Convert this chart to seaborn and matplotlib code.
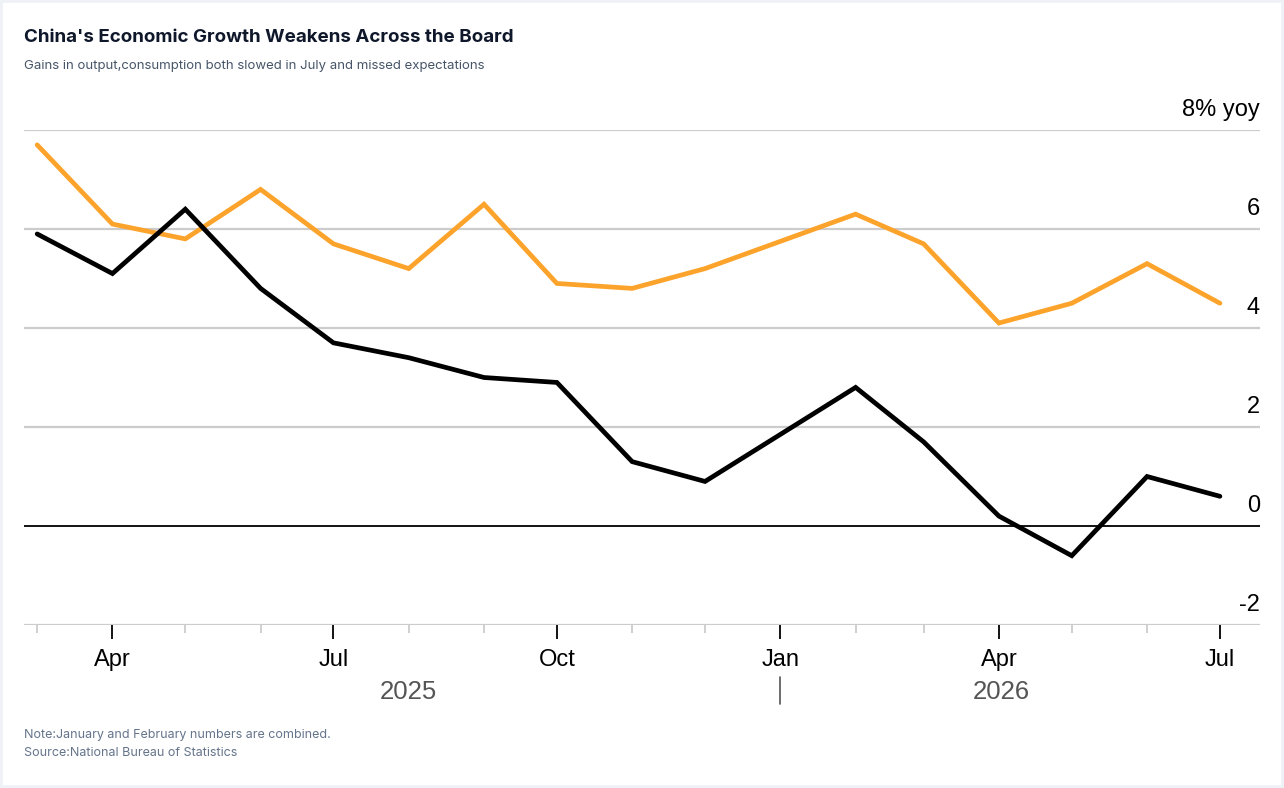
import pandas as pd
import matplotlib.pyplot as plt
import matplotlib.dates as mdates
import seaborn as sns
from matplotlib.patches import Rectangle

# Data (Jan and Feb are combined, so there's no January point)
months = ['2025-03-01', '2025-04-01', '2025-05-01', '2025-06-01', '2025-07-01',
          '2025-08-01', '2025-09-01', '2025-10-01', '2025-11-01', '2025-12-01',
          '2026-02-01', '2026-03-01', '2026-04-01', '2026-05-01', '2026-06-01',
          '2026-07-01']
orange_series = [7.7, 6.1, 5.8, 6.8, 5.7, 5.2, 6.5, 4.9, 4.8, 5.2,
                 6.3, 5.7, 4.1, 4.5, 5.3, 4.5]
black_series = [5.9, 5.1, 6.4, 4.8, 3.7, 3.4, 3.0, 2.9, 1.3, 0.9,
                2.8, 1.7, 0.2, -0.6, 1.0, 0.6]
y_ticks = [-2, 0, 2, 4, 6, 8]
y_labels = ['-2', '0', '2', '4', '6', '8% yoy']
year_labels = ['2025', '2026']

df = pd.DataFrame({'date': pd.to_datetime(months),
                   'orange': orange_series,
                   'black': black_series})
long_df = df.melt(id_vars='date', var_name='series', value_name='value')

sns.set_style('white')
plt.rcParams['font.family'] = ['Liberation Sans', 'DejaVu Sans']

fig = plt.figure(figsize=(12.84, 7.88), dpi=100)
W, H = 1284, 788
ax = fig.add_axes([24 / W, 1 - 625 / H, (1260 - 24) / W, (625 - 130) / H])

# grid lines
for v in y_ticks:
    if v == 0:
        ax.axhline(v, color='black', lw=1.3, zorder=1)
    else:
        ax.axhline(v, color='#cccccc', lw=1.6, zorder=1)

sns.lineplot(data=long_df, x='date', y='value', hue='series',
             palette={'orange': '#fca32c', 'black': '#000000'},
             linewidth=3.4, legend=False, ax=ax, zorder=3,
             solid_capstyle='round', solid_joinstyle='miter')

ax.set_xlim(pd.Timestamp('2025-02-23 14:00'), pd.Timestamp('2026-07-17 12:00'))
ax.set_ylim(-2, 8)
for s in ax.spines.values():
    s.set_visible(False)
ax.set_xlabel('')
ax.set_ylabel('')
ax.set_yticks([])

# y labels sit above the grid lines, right aligned
for v, lab in zip(y_ticks, y_labels):
    ax.text(1.0, v + 0.18, lab, transform=ax.get_yaxis_transform(),
            ha='right', va='bottom', fontsize=17, color='black')

# x ticks
ax.xaxis.set_major_locator(mdates.MonthLocator(bymonth=[1, 4, 7, 10]))
ax.xaxis.set_major_formatter(mdates.DateFormatter('%b'))
ax.xaxis.set_minor_locator(mdates.MonthLocator())
ax.tick_params(axis='x', which='major', length=10, width=1.3, color='black',
               labelsize=17, labelcolor='black', pad=7, bottom=True)
ax.tick_params(axis='x', which='minor', length=6, width=1.3, color='#cccccc',
               bottom=True)

# year labels
trans = ax.get_xaxis_transform()
ax.text(pd.Timestamp('2025-08-01'), -0.135, year_labels[0], transform=trans,
        ha='center', va='center', fontsize=18.5, color='#555555')
ax.text(pd.Timestamp('2026-04-02'), -0.135, year_labels[1], transform=trans,
        ha='center', va='center', fontsize=18.5, color='#555555')
ax.plot([pd.Timestamp('2026-01-01')] * 2, [-0.105, -0.16], transform=trans,
        color='#555555', lw=1.2, clip_on=False)

# titles and notes
fig.text(24 / W, 1 - 37 / H, "China's Economic Growth Weakens Across the Board",
         fontsize=13.5, fontweight='bold', color='#0f172a', va='center',
         family=['Inter', 'DejaVu Sans'])
fig.text(24 / W, 1 - 66 / H,
         'Gains in output,consumption both slowed in July and missed expectations',
         fontsize=9.5, color='#475569', va='center', family=['Inter', 'DejaVu Sans'])
fig.text(24 / W, 1 - 735 / H, 'Note:January and February numbers are combined.',
         fontsize=9, color='#64748b', va='center', family=['Inter', 'DejaVu Sans'])
fig.text(24 / W, 1 - 753 / H, 'Source:National Bureau of Statistics',
         fontsize=9, color='#64748b', va='center', family=['Inter', 'DejaVu Sans'])

# thin frame around the card
fig.patches.append(Rectangle((0, 0), 1, 1, transform=fig.transFigure,
                             fill=False, edgecolor='#eef2f6', lw=4))

fig.savefig('out.png', dpi=100)
